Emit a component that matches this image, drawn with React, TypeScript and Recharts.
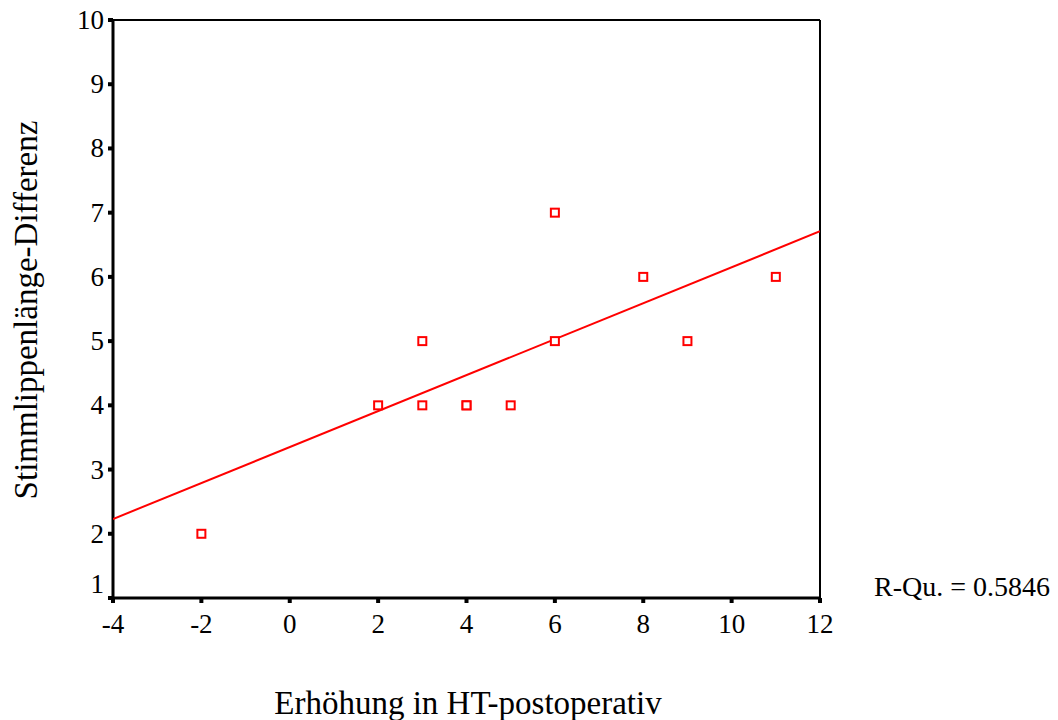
import React from 'react';
import {
    ScatterChart,
    Scatter,
    XAxis,
    YAxis,
    ReferenceLine,
} from 'recharts';

// Observed values (Erhöhung in HT-postoperativ vs. Stimmlippenlänge-Differenz)
const POINTS = [
    { x: -2, y: 2 },
    { x: 2, y: 4 },
    { x: 3, y: 4 },
    { x: 3, y: 5 },
    { x: 4, y: 4 },
    { x: 4, y: 4 },
    { x: 5, y: 4 },
    { x: 6, y: 5 },
    { x: 6, y: 7 },
    { x: 8, y: 6 },
    { x: 9, y: 5 },
    { x: 11, y: 6 },
];

// Fitted regression line, read at the plot edges
const FIT_LINE = [
    { x: -4, y: 2.23 },
    { x: 12, y: 6.71 },
];

const X_TICKS = [-4, -2, 0, 2, 4, 6, 8, 10, 12];
const Y_TICKS = [1, 2, 3, 4, 5, 6, 7, 8, 9, 10];

const FONT = '"Liberation Serif", "Times New Roman", serif';

const OpenSquare = (props: any) => {
    const { cx, cy } = props;
    if (cx == null || cy == null) return null;
    return (
        <rect
            x={cx - 4}
            y={cy - 4}
            width={8}
            height={8}
            fill="#fff"
            stroke="#ff0000"
            strokeWidth={2}
        />
    );
};

// lowest y label sits a bit above the x axis, like the original
const YTick = (props: any) => {
    const { x, y, payload } = props;
    const shift = payload.value === 1 ? -14 : 0;
    return (
        <text
            x={x}
            y={y + shift}
            textAnchor="end"
            dominantBaseline="central"
            fontSize={27}
            fontFamily={FONT}
            fill="#000"
        >
            {payload.value}
        </text>
    );
};

export default function App() {
    return (
        <div style={{ position: 'absolute', left: 0, top: 0, width: 1058, height: 720, background: '#fff', fontFamily: FONT }}>
            <ScatterChart
                width={1058}
                height={720}
                margin={{ top: 20, right: 238, bottom: 92, left: 53 }}
            >
                <XAxis
                    type="number"
                    dataKey="x"
                    domain={[-4, 12]}
                    ticks={X_TICKS}
                    height={30}
                    axisLine={{ stroke: '#000', strokeWidth: 3 }}
                    tickLine={{ stroke: '#000', strokeWidth: 4 }}
                    tickSize={5}
                    tickMargin={11}
                    tick={{ fill: '#000', fontSize: 27, fontFamily: FONT }}
                    allowDataOverflow
                />
                <YAxis
                    type="number"
                    dataKey="y"
                    domain={[1, 10]}
                    ticks={Y_TICKS}
                    width={60}
                    axisLine={{ stroke: '#000', strokeWidth: 3 }}
                    tickLine={{ stroke: '#000', strokeWidth: 4 }}
                    tickSize={5}
                    tickMargin={4}
                    tick={YTick}
                    allowDataOverflow
                />
                <ReferenceLine y={10} stroke="#000" strokeWidth={2} />
                <ReferenceLine x={12} stroke="#000" strokeWidth={2} />
                <Scatter
                    data={FIT_LINE}
                    line={{ stroke: '#ff0000', strokeWidth: 2 }}
                    shape={() => null}
                    isAnimationActive={false}
                />
                <Scatter data={POINTS} shape={OpenSquare} isAnimationActive={false} />
                <text
                    x={26}
                    y={310}
                    transform="rotate(-90 26 310)"
                    textAnchor="middle"
                    dominantBaseline="central"
                    fontSize={33}
                    fontFamily={FONT}
                    fill="#000"
                >
                    Stimmlippenlänge-Differenz
                </text>
                <text
                    x={468}
                    y={703}
                    textAnchor="middle"
                    dominantBaseline="central"
                    fontSize={33}
                    fontFamily={FONT}
                    fill="#000"
                >
                    Erhöhung in HT-postoperativ
                </text>
                <text
                    x={874}
                    y={586}
                    textAnchor="start"
                    dominantBaseline="central"
                    fontSize={28}
                    fontFamily={FONT}
                    fill="#000"
                >
                    R-Qu. = 0.5846
                </text>
            </ScatterChart>
        </div>
    );
}
